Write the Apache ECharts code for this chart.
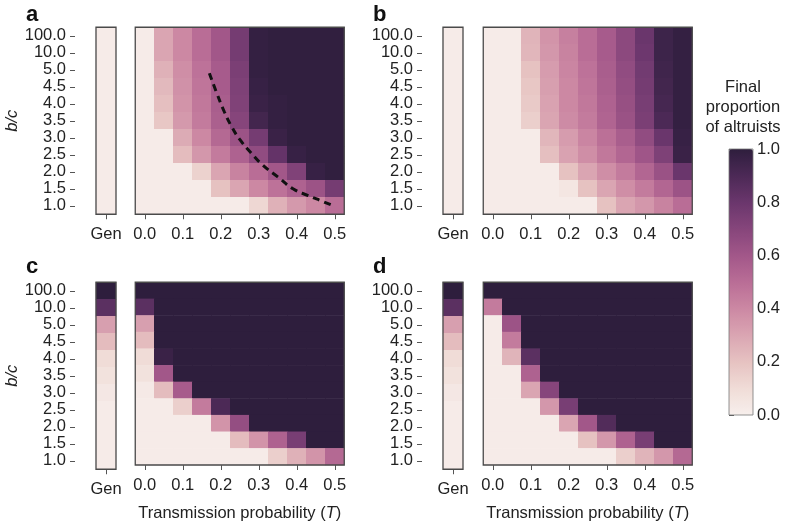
<!DOCTYPE html>
<html><head><meta charset="utf-8">
<script src="https://cdn.jsdelivr.net/npm/echarts@6/dist/echarts.min.js"></script>
<style>html,body{margin:0;padding:0;background:#fff}#c{width:788px;height:523px}</style>
</head><body><div id="c"></div>
<script>
// b/c categories, bottom to top
const bcLabels = ["1.0","1.5","2.0","2.5","3.0","3.5","4.0","4.5","5.0","10.0","100.0"];
// transmission probability categories
const tLabels = ["0.00","0.05","0.10","0.15","0.20","0.25","0.30","0.35","0.40","0.45","0.50"];

// Generalist column, rows listed top (100.0) to bottom (1.0)
const genA = [0.02,0.02,0.02,0.02,0.02,0.02,0.02,0.02,0.02,0.02,0.02];
const genB = [0.02,0.02,0.02,0.02,0.02,0.02,0.02,0.02,0.02,0.02,0.02];
const genC = [1.0,0.85,0.32,0.22,0.10,0.07,0.04,0.02,0.02,0.02,0.02];
const genD = [1.0,0.85,0.32,0.22,0.10,0.07,0.04,0.02,0.02,0.02,0.02];

// Main heatmaps, rows top (100.0) to bottom (1.0), columns T = 0.00 .. 0.50
const mainA = [
  [0.02,0.30,0.40,0.50,0.60,0.76,0.98,0.99,0.99,0.99,0.99],
  [0.02,0.30,0.40,0.50,0.60,0.76,0.98,0.99,0.99,0.99,0.99],
  [0.02,0.26,0.38,0.48,0.58,0.74,0.98,0.99,0.99,0.99,0.99],
  [0.02,0.23,0.37,0.47,0.58,0.73,0.97,0.99,0.99,0.99,0.99],
  [0.02,0.21,0.36,0.46,0.57,0.72,0.96,0.98,0.99,0.99,0.99],
  [0.02,0.18,0.34,0.45,0.56,0.70,0.93,0.98,0.99,0.99,0.99],
  [0.02,0.02,0.28,0.40,0.52,0.62,0.76,0.96,0.99,0.99,0.99],
  [0.02,0.02,0.22,0.35,0.45,0.55,0.66,0.82,0.97,0.99,0.99],
  [0.02,0.02,0.02,0.14,0.30,0.42,0.50,0.60,0.72,0.97,0.99],
  [0.02,0.02,0.02,0.02,0.20,0.30,0.40,0.48,0.55,0.62,0.76],
  [0.02,0.02,0.02,0.02,0.02,0.02,0.12,0.26,0.34,0.40,0.50]
];
const mainB = [
  [0.02,0.02,0.25,0.36,0.43,0.50,0.58,0.68,0.80,0.95,0.98],
  [0.02,0.02,0.24,0.35,0.42,0.50,0.58,0.68,0.79,0.95,0.98],
  [0.02,0.02,0.20,0.33,0.41,0.48,0.57,0.66,0.77,0.94,0.98],
  [0.02,0.02,0.18,0.32,0.40,0.47,0.56,0.65,0.76,0.93,0.98],
  [0.02,0.02,0.17,0.31,0.40,0.46,0.55,0.64,0.75,0.92,0.98],
  [0.02,0.02,0.15,0.30,0.39,0.45,0.54,0.63,0.74,0.90,0.98],
  [0.02,0.02,0.02,0.24,0.33,0.41,0.49,0.57,0.66,0.80,0.97],
  [0.02,0.02,0.02,0.21,0.31,0.38,0.46,0.53,0.61,0.73,0.96],
  [0.02,0.02,0.02,0.02,0.20,0.30,0.38,0.45,0.53,0.63,0.80],
  [0.02,0.02,0.02,0.02,0.05,0.20,0.30,0.38,0.45,0.53,0.62],
  [0.02,0.02,0.02,0.02,0.02,0.02,0.20,0.30,0.35,0.42,0.50]
];
const mainC = [
  [1.00,1.00,1.00,1.00,1.00,1.00,1.00,1.00,1.00,1.00,1.00],
  [0.85,1.00,1.00,1.00,1.00,1.00,1.00,1.00,1.00,1.00,1.00],
  [0.32,1.00,1.00,1.00,1.00,1.00,1.00,1.00,1.00,1.00,1.00],
  [0.22,1.00,1.00,1.00,1.00,1.00,1.00,1.00,1.00,1.00,1.00],
  [0.10,0.96,1.00,1.00,1.00,1.00,1.00,1.00,1.00,1.00,1.00],
  [0.07,0.60,1.00,1.00,1.00,1.00,1.00,1.00,1.00,1.00,1.00],
  [0.03,0.22,0.58,1.00,1.00,1.00,1.00,1.00,1.00,1.00,1.00],
  [0.02,0.02,0.15,0.45,0.90,1.00,1.00,1.00,1.00,1.00,1.00],
  [0.02,0.02,0.02,0.02,0.36,0.65,1.00,1.00,1.00,1.00,1.00],
  [0.02,0.02,0.02,0.02,0.02,0.22,0.36,0.55,0.75,1.00,1.00],
  [0.02,0.02,0.02,0.02,0.02,0.02,0.02,0.15,0.26,0.36,0.52]
];
const mainD = [
  [1.00,1.00,1.00,1.00,1.00,1.00,1.00,1.00,1.00,1.00,1.00],
  [0.45,1.00,1.00,1.00,1.00,1.00,1.00,1.00,1.00,1.00,1.00],
  [0.02,0.62,1.00,1.00,1.00,1.00,1.00,1.00,1.00,1.00,1.00],
  [0.02,0.45,1.00,1.00,1.00,1.00,1.00,1.00,1.00,1.00,1.00],
  [0.02,0.25,0.85,1.00,1.00,1.00,1.00,1.00,1.00,1.00,1.00],
  [0.02,0.02,0.55,1.00,1.00,1.00,1.00,1.00,1.00,1.00,1.00],
  [0.02,0.02,0.30,0.70,1.00,1.00,1.00,1.00,1.00,1.00,1.00],
  [0.02,0.02,0.02,0.35,0.75,1.00,1.00,1.00,1.00,1.00,1.00],
  [0.02,0.02,0.02,0.02,0.30,0.60,0.88,1.00,1.00,1.00,1.00],
  [0.02,0.02,0.02,0.02,0.02,0.20,0.35,0.55,0.75,1.00,1.00],
  [0.02,0.02,0.02,0.02,0.02,0.02,0.02,0.15,0.25,0.35,0.52]
];

// dashed theoretical curve in panel a (T, b/c)
const curveT  = [0.17,0.19,0.21,0.23,0.25,0.28,0.31,0.35,0.39,0.43,0.47,0.50];
const curveBC = [4.90,4.30,3.75,3.30,2.95,2.55,2.20,1.85,1.50,1.30,1.12,0.98];

const palette = ['#f7efec','#f0dcd7','#e6c2c1','#daa5b2','#cc88a3','#b96d96','#a25789','#86457b','#6a366c','#4c2956','#2e1e3d'];

function genData(arr){ const n = arr.length; return arr.map((v,i)=>[0, n-1-i, v]); }
function mainData(m){ const out=[]; const n=m.length; m.forEach((row,i)=>row.forEach((v,j)=>out.push([j, n-1-i, v]))); return out; }

const FONT = '"Liberation Sans", Arial, Helvetica, sans-serif';
const TXT = '#222';
const TICK = '#555';
const FRAME = '#4a4a4a';
const FS = 16.5;

const panels = [
  {gen: genA, main: mainA, gx: 96,  mx: 135.25, top: 27.25,  yName: true,  xName: false},
  {gen: genB, main: mainB, gx: 443, mx: 483.25, top: 27.25,  yName: false, xName: false},
  {gen: genC, main: mainC, gx: 96,  mx: 135.25, top: 282.25, yName: true,  xName: true},
  {gen: genD, main: mainD, gx: 443, mx: 483.25, top: 282.25, yName: false, xName: true}
];
const H = 187, MW = 209;

const grid = [], xAxis = [], yAxis = [], series = [];
panels.forEach((p, k) => {
  const gi = grid.length;
  grid.push({left: p.gx, top: p.top, width: 20, height: H, show: true, borderColor: FRAME, borderWidth: 1.3, backgroundColor: 'transparent', z: 5});
  grid.push({left: p.mx, top: p.top, width: MW, height: H, show: true, borderColor: FRAME, borderWidth: 1.3, backgroundColor: 'transparent', z: 5});
  xAxis.push({type: 'category', gridIndex: gi, data: ['Gen'], axisLine: {show: false},
    axisTick: {show: true, alignWithLabel: true, length: 5, lineStyle: {color: TICK}},
    axisLabel: {margin: 12, fontSize: FS, color: TXT, fontFamily: FONT}, splitLine: {show: false}});
  xAxis.push({type: 'category', gridIndex: gi + 1, data: tLabels, axisLine: {show: false},
    axisTick: {show: true, alignWithLabel: true, interval: 1, length: 5, lineStyle: {color: TICK}},
    axisLabel: {margin: 12, fontSize: FS, color: TXT, fontFamily: FONT, interval: 1, formatter: v => (+v).toFixed(1)},
    splitLine: {show: false},
    name: p.xName ? 'Transmission probability ({i|T})' : '', nameLocation: 'middle', nameGap: 40,
    nameTextStyle: {fontSize: FS, color: TXT, fontFamily: FONT, rich: {i: {fontStyle: 'italic', fontSize: FS, color: TXT, fontFamily: FONT}}}});
  yAxis.push({type: 'category', gridIndex: gi, data: bcLabels, offset: 21, axisLine: {show: false},
    axisTick: {show: true, alignWithLabel: true, length: 5, lineStyle: {color: TICK}},
    axisLabel: {margin: 9, fontSize: FS, color: TXT, fontFamily: FONT, interval: 0},
    splitLine: {show: false},
    name: p.yName ? 'b/c' : '', nameLocation: 'middle', nameGap: 42,
    nameTextStyle: {fontSize: FS, color: TXT, fontFamily: FONT, fontStyle: 'italic'}});
  yAxis.push({type: 'category', gridIndex: gi + 1, data: bcLabels, show: false});
  series.push({type: 'heatmap', xAxisIndex: gi, yAxisIndex: gi, data: genData(p.gen), itemStyle: {borderWidth: 0}, emphasis: {disabled: true}});
  series.push({type: 'heatmap', xAxisIndex: gi + 1, yAxisIndex: gi + 1, data: mainData(p.main), itemStyle: {borderWidth: 0}, emphasis: {disabled: true}});
});

// overlay grid for the dashed curve on panel a
const ci = grid.length;
grid.push({left: 135.25, top: 27.25, width: MW, height: H, show: false, z: 6});
xAxis.push({type: 'value', gridIndex: ci, min: -0.025, max: 0.525, show: false});
yAxis.push({type: 'value', gridIndex: ci, min: 0.75, max: 6.25, show: false});
series.push({type: 'line', xAxisIndex: ci, yAxisIndex: ci, z: 8, smooth: true, symbol: 'none', silent: true,
  data: curveT.map((t, i) => [t, curveBC[i]]),
  lineStyle: {color: '#111', width: 3, type: [7, 5]}});

// colorbar axis
const bi = grid.length;
grid.push({left: 729, top: 149, width: 24, height: 266, show: true, borderColor: '#777', borderWidth: 0.8, backgroundColor: 'transparent', z: 5});
xAxis.push({type: 'value', gridIndex: bi, show: false, min: 0, max: 1});
yAxis.push({type: 'value', gridIndex: bi, min: 0, max: 1, interval: 0.2, position: 'right',
  axisLine: {show: false}, splitLine: {show: false},
  axisTick: {show: true, length: 5, lineStyle: {color: TICK}},
  axisLabel: {margin: 4, fontSize: FS, color: TXT, fontFamily: FONT, formatter: v => v.toFixed(1)}});

const option = {
  backgroundColor: '#fff',
  animation: false,
  textStyle: {fontFamily: FONT},
  grid, xAxis, yAxis, series,
  visualMap: {
    type: 'continuous', min: 0, max: 1, dimension: 2, seriesIndex: [0,1,2,3,4,5,6,7],
    inRange: {color: palette}, calculable: false, orient: 'vertical',
    left: 729, top: 149, itemWidth: 24, itemHeight: 266, padding: 0, text: null, hoverLink: false
  },
  graphic: [
    {type: 'text', left: 26, top: 4, style: {text: 'a', font: 'bold 22px ' + FONT, fill: '#111'}},
    {type: 'text', left: 373, top: 4, style: {text: 'b', font: 'bold 22px ' + FONT, fill: '#111'}},
    {type: 'text', left: 26, top: 256, style: {text: 'c', font: 'bold 22px ' + FONT, fill: '#111'}},
    {type: 'text', left: 373, top: 256, style: {text: 'd', font: 'bold 22px ' + FONT, fill: '#111'}},
    {type: 'text', x: 743, y: 77, style: {text: 'Final\nproportion\nof altruists', font: '16.5px ' + FONT, fill: TXT, align: 'center', lineHeight: 20}}
  ]
};
echarts.init(document.getElementById('c')).setOption(option);
</script>
</body></html>
